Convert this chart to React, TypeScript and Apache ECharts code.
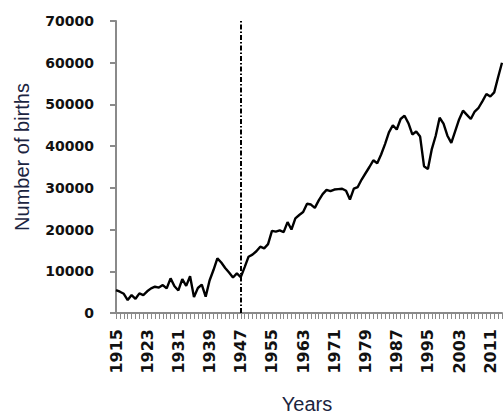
import React, { useEffect, useRef } from "react";
import * as echarts from "echarts";

// Annual births, 1915–2014
const years: string[] = [];
for (let y = 1915; y <= 2014; y++) years.push(String(y));

const births: number[] = [
  5500, 5100, 4600, 3100, 4300, 3400, 4700, 4300, 5200, 5900, // 1915-1924
  6300, 6100, 6700, 5900, 8300, 6400, 5400, 8100, 6500, 8800, // 1925-1934
  3800, 6000, 6800, 3900, 7800, 10300, 13100, 12100, 10800, 9700, // 1935-1944
  8500, 9500, 8600, 11000, 13500, 14000, 14800, 15900, 15500, 16500, // 1945-1954
  19700, 19500, 19800, 19400, 21800, 20000, 22700, 23500, 24200, 26200, // 1955-1964
  26000, 25200, 27000, 28500, 29500, 29200, 29600, 29700, 29800, 29300, // 1965-1974
  27200, 29800, 30200, 32000, 33500, 35000, 36600, 35900, 38000, 40500, // 1975-1984
  43300, 45000, 44000, 46500, 47300, 45500, 42800, 43500, 42300, 35200, // 1985-1994
  34500, 39300, 42500, 46800, 45400, 42500, 40800, 43600, 46400, 48500, // 1995-2004
  47500, 46500, 48300, 49200, 50800, 52500, 51900, 52900, 56500, 60000, // 2005-2014
];

const yTicks = { min: 0, max: 70000, interval: 10000 };
const markerYear = "1947";
const xAxisTitle = "Years";
const yAxisTitle = "Number of births";

export default function App() {
  const ref = useRef<HTMLDivElement>(null);

  useEffect(() => {
    if (!ref.current) return;
    const chart = echarts.init(ref.current, undefined, { renderer: "svg" });
    const axisGray = "#8a8a8a";
    chart.setOption({
      animation: false,
      backgroundColor: "#ffffff",
      grid: { left: 116, right: 1, top: 21, bottom: 103 },
      xAxis: {
        type: "category",
        data: years,
        boundaryGap: false,
        axisLine: { show: true, lineStyle: { color: axisGray, width: 2 } },
        axisTick: {
          show: true,
          interval: 0,
          length: 6,
          lineStyle: { color: axisGray, width: 1 },
        },
        axisLabel: {
          interval: 7,
          rotate: 90,
          margin: 16,
          color: "#111",
          fontFamily: "DejaVu Sans",
          fontWeight: "bold",
          fontSize: 16,
        },
        splitLine: { show: false },
      },
      yAxis: {
        type: "value",
        min: yTicks.min,
        max: yTicks.max,
        interval: yTicks.interval,
        axisLine: { show: true, lineStyle: { color: axisGray, width: 2 } },
        axisTick: { show: true, length: 6, lineStyle: { color: axisGray, width: 2 } },
        axisLabel: {
          margin: 22,
          color: "#111",
          fontFamily: "DejaVu Sans",
          fontWeight: "bold",
          fontSize: 14,
          formatter: (v: number) => String(v),
        },
        splitLine: { show: false },
      },
      graphic: [
        {
          type: "text",
          x: 22,
          y: 157,
          rotation: Math.PI / 2,
          style: {
            text: yAxisTitle,
            fill: "#1b2440",
            font: "20px 'Liberation Sans', Arial, sans-serif",
            align: "center",
            verticalAlign: "middle",
          },
        },
        {
          type: "text",
          x: 307,
          y: 404,
          style: {
            text: xAxisTitle,
            fill: "#1b2440",
            font: "20px 'Liberation Sans', Arial, sans-serif",
            align: "center",
            verticalAlign: "middle",
          },
        },
      ],
      series: [
        {
          type: "line",
          data: births,
          showSymbol: false,
          symbol: "none",
          lineStyle: { color: "#000", width: 2.4 },
          markLine: {
            silent: true,
            symbol: "none",
            label: { show: false },
            lineStyle: { color: "#000", width: 2, type: [5, 2, 1.5, 2] },
            data: [{ xAxis: markerYear }],
          },
        },
      ],
    });
    return () => chart.dispose();
  }, []);

  return (
    <div
      ref={ref}
      style={{ position: "absolute", left: 0, top: 0, width: 503, height: 416 }}
    />
  );
}
